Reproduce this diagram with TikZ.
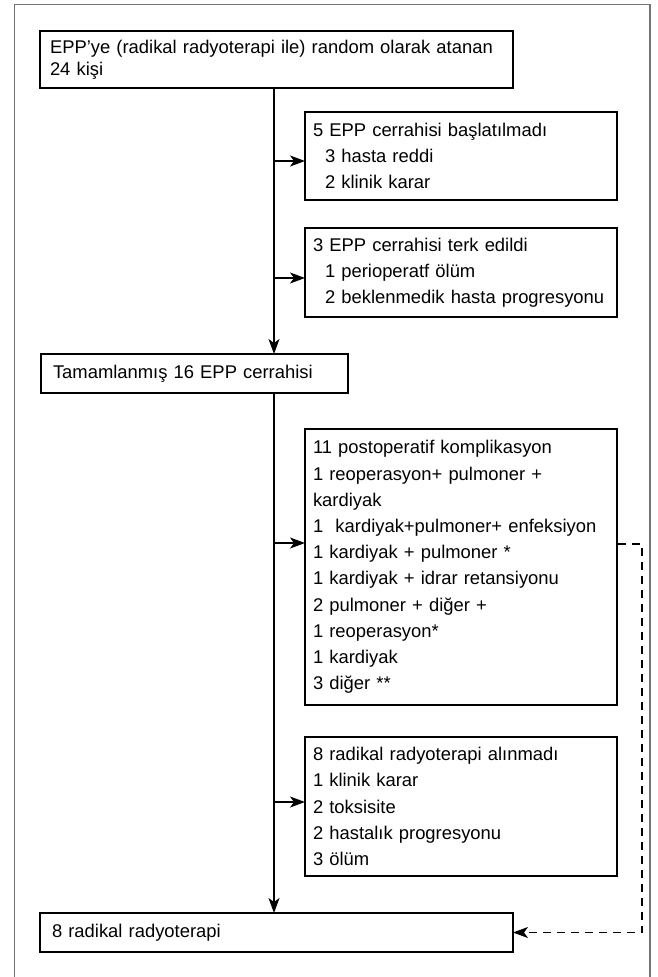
\documentclass[tikz,border=0pt]{standalone}
\usepackage{fontspec}
\setmainfont{Liberation Sans}
\usetikzlibrary{arrows.meta}
\begin{document}
\begin{tikzpicture}[x=1pt,y=-1pt,
  box/.style={draw, line width=1.2pt, anchor=north west, align=left, inner ysep=0pt, outer sep=0pt,
    font=\fontsize{18.4}{26.2}\selectfont},
  sidebox/.style={box, inner xsep=8pt, text width=296pt},
  arr/.style={line width=1.2pt, -{Stealth[length=15pt,width=11pt,inset=4pt]}},
  dashline/.style={line width=1.2pt, dash pattern=on 8pt off 6pt, -{Stealth[length=15pt,width=11pt,inset=4pt]}},
  frame/.style={draw=black!55, line width=1.5pt}]
\useasboundingbox (0,0) rectangle (657,977);
\draw[frame] (14.5,977) -- (14.5,4.5) -- (650,4.5) -- (650,977);

\node[box, inner xsep=10pt, text width=453pt, minimum height=57pt,
  font=\fontsize{18.4}{22}\selectfont] (b1) at (40,31)
  {\mbox{EPP’ye (radikal radyoterapi ile) random olarak atanan}\\24 kişi};
\node[sidebox, minimum height=88pt] (b2) at (305,112)
  {5 EPP cerrahisi başlatılmadı\\\hspace*{12pt}3 hasta reddi\\\hspace*{12pt}2 klinik karar};
\node[sidebox, minimum height=89pt] (b3) at (305,228)
  {3 EPP cerrahisi terk edildi\\\hspace*{12pt}1 perioperatf ölüm\\\hspace*{12pt}\mbox{2 beklenmedik hasta progresyonu}};
\node[box, inner xsep=12pt, text width=283pt, minimum height=39pt] (b4) at (41,354)
  {Tamamlanmış 16 EPP cerrahisi};
\node[sidebox, minimum height=276pt] (b5) at (305,429)
  {11 postoperatif komplikasyon\\1 reoperasyon+ pulmoner +\\kardiyak\\\mbox{1\ \ kardiyak+pulmoner+ enfeksiyon}\\1 kardiyak + pulmoner *\\1 kardiyak + idrar retansiyonu\\2 pulmoner + diğer +\\1 reoperasyon*\\1 kardiyak\\3 diğer **};
\node[sidebox, minimum height=139pt] (b6) at (305,737)
  {8 radikal radyoterapi alınmadı\\1 klinik karar\\2 toksisite\\2 hastalık progresyonu\\3 ölüm};
\node[box, inner xsep=12pt, text width=449pt, minimum height=39pt] (b7) at (40,913)
  {8 radikal radyoterapi};

\coordinate (s) at (274,0);
\draw[arr] (b1.south -| s) -- (b4.north -| s);
\draw[arr] (b4.south -| s) -- (b7.north -| s);
\coordinate (j2) at (274,161);
\coordinate (j3) at (274,278);
\coordinate (j5) at (274,543);
\coordinate (j6) at (274,802);
\draw[arr] (j2) -- (j2 -| b2.west);
\draw[arr] (j3) -- (j3 -| b3.west);
\draw[arr] (j5) -- (j5 -| b5.west);
\draw[arr] (j6) -- (j6 -| b6.west);
\coordinate (d1) at (618,544);
\coordinate (dc) at (642,544);
\draw[dashline] (d1) -- (dc) |- (b7.east);
\end{tikzpicture}
\end{document}
